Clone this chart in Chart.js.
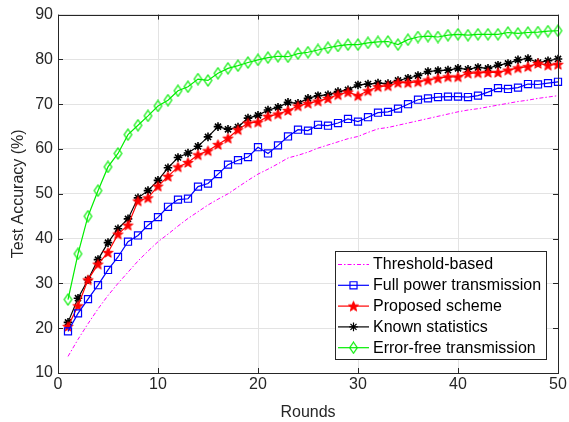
<!DOCTYPE html>
<html>
<head>
<meta charset="utf-8">
<script src="https://cdn.jsdelivr.net/npm/chart.js@4.4.0/dist/chart.umd.min.js"></script>
<style>
    html, body { margin: 0; padding: 0; background: #fff; }
</style>
</head>
<body>
<canvas id="accChart" width="569" height="422"></canvas>
<script>
const rounds = [1, 2, 3, 4, 5, 6, 7, 8, 9, 10,
    11, 12, 13, 14, 15, 16, 17, 18, 19, 20,
    21, 22, 23, 24, 25, 26, 27, 28, 29, 30,
    31, 32, 33, 34, 35, 36, 37, 38, 39, 40,
    41, 42, 43, 44, 45, 46, 47, 48, 49, 50];

const thresholdBased = [13.7, 17.5, 21.0, 24.3, 27.3, 30.0, 32.5, 35.0, 37.2, 39.3,
    41.0, 42.8, 44.5, 46.0, 47.5, 48.8, 50.0, 51.5, 53.0, 54.4,
    55.5, 56.7, 58.0, 58.6, 59.3, 60.2, 60.9, 61.6, 62.3, 62.8,
    63.7, 64.5, 64.8, 65.3, 65.8, 66.3, 66.8, 67.3, 67.8, 68.3,
    68.7, 69.0, 69.4, 69.8, 70.2, 70.6, 70.9, 71.3, 71.6, 71.9];

const fullPower = [19.3, 23.3, 26.5, 29.6, 33.0, 35.9, 39.3, 40.7, 43.0, 44.8,
    47.1, 48.7, 48.9, 51.6, 52.3, 54.4, 56.5, 57.5, 58.2, 60.4,
    59.0, 60.8, 62.8, 64.3, 64.1, 65.4, 65.2, 65.8, 66.7, 66.1,
    67.1, 68.1, 68.3, 69.0, 70.0, 71.0, 71.3, 71.6, 71.7, 71.7,
    71.6, 71.9, 72.7, 73.6, 73.4, 73.7, 74.5, 74.4, 74.7, 75.0];

const proposed = [20.4, 25.0, 30.8, 34.3, 36.9, 41.0, 43.0, 48.4, 49.1, 51.7,
    53.9, 56.0, 57.0, 58.7, 59.6, 61.0, 62.4, 64.3, 65.8, 66.0,
    67.3, 67.8, 68.6, 69.6, 70.2, 70.7, 71.3, 72.1, 72.7, 71.9,
    73.0, 73.9, 74.1, 74.8, 74.8, 75.0, 75.4, 75.8, 76.1, 76.1,
    76.9, 77.0, 77.1, 77.1, 77.6, 78.1, 78.4, 79.1, 78.7, 78.9];

const knownStats = [21.3, 26.7, 30.8, 35.3, 39.1, 42.2, 44.4, 49.1, 50.7, 53.0,
    55.8, 58.1, 59.1, 60.6, 62.7, 65.0, 64.4, 64.9, 66.9, 67.5,
    68.7, 69.3, 70.4, 70.2, 71.3, 71.9, 72.1, 72.8, 73.2, 74.3,
    74.5, 74.7, 74.6, 75.3, 75.8, 76.4, 77.3, 77.5, 77.6, 78.0,
    77.8, 78.2, 78.0, 78.7, 79.1, 79.9, 80.2, 79.3, 79.7, 80.1];

const errorFree = [26.4, 36.6, 45.0, 50.7, 56.0, 59.0, 63.2, 65.3, 67.4, 69.6,
    70.9, 73.0, 73.9, 75.6, 75.3, 76.9, 78.0, 78.6, 79.3, 79.9,
    80.4, 80.7, 80.6, 81.3, 81.6, 82.1, 82.6, 83.0, 83.3, 83.3,
    83.7, 83.9, 84.0, 83.3, 84.4, 85.0, 85.2, 85.0, 85.4, 85.6,
    85.4, 85.6, 85.6, 85.6, 86.0, 85.8, 86.0, 86.1, 86.3, 86.4];

const xTicks = [0, 10, 20, 30, 40, 50];
const yTicks = [10, 20, 30, 40, 50, 60, 70, 80, 90];

const FONT = "'Liberation Sans', Arial, Helvetica, sans-serif";
const AXIS_COLOR = '#262626';

// filled pentagram marker (matlab 'p')
function makeStar(color) {
    const c = document.createElement('canvas');
    c.width = 13; c.height = 13;
    const g = c.getContext('2d');
    const R = 5.3, r = R * 0.42;
    g.beginPath();
    for (let i = 0; i < 10; i++) {
        const rad = i % 2 === 0 ? R : r;
        const a = -Math.PI / 2 + i * Math.PI / 5;
        const px = 6.5 + rad * Math.cos(a), py = 7 + rad * Math.sin(a);
        if (i === 0) g.moveTo(px, py); else g.lineTo(px, py);
    }
    g.closePath();
    g.fillStyle = color;
    g.fill();
    g.strokeStyle = color;
    g.lineWidth = 1;
    g.stroke();
    return c;
}

// open diamond marker, taller than wide
function makeDiamond(color) {
    const c = document.createElement('canvas');
    c.width = 11; c.height = 13;
    const g = c.getContext('2d');
    g.beginPath();
    g.moveTo(5.5, 1);
    g.lineTo(9.3, 6.5);
    g.lineTo(5.5, 12);
    g.lineTo(1.7, 6.5);
    g.closePath();
    g.strokeStyle = color;
    g.lineWidth = 1.2;
    g.stroke();
    return c;
}

const starImg = makeStar('#ff0000');
const diamondImg = makeDiamond('#00ee00');

function toPoints(values) {
    return values.map((v, i) => ({ x: rounds[i], y: v }));
}

const datasets = [
    {
        label: 'Threshold-based',
        data: toPoints(thresholdBased),
        borderColor: '#ff00ff',
        borderWidth: 1,
        borderDash: [4, 2, 1.5, 2],
        pointRadius: 0
    },
    {
        label: 'Full power transmission',
        data: toPoints(fullPower),
        borderColor: '#0000ff',
        borderWidth: 1.2,
        pointStyle: 'rect',
        pointRadius: 5,
        pointBorderColor: '#0000ff',
        pointBackgroundColor: 'rgba(0,0,0,0)',
        pointBorderWidth: 1.2
    },
    {
        label: 'Proposed scheme',
        data: toPoints(proposed),
        borderColor: '#ff0000',
        borderWidth: 1.2,
        pointStyle: starImg,
        pointRadius: 5
    },
    {
        label: 'Known statistics',
        data: toPoints(knownStats),
        borderColor: '#000000',
        borderWidth: 1.2,
        pointStyle: 'star',
        pointRadius: 4.3,
        pointBorderColor: '#000000',
        pointBorderWidth: 1.6
    },
    {
        label: 'Error-free transmission',
        data: toPoints(errorFree),
        borderColor: '#00ee00',
        borderWidth: 1.2,
        pointStyle: diamondImg,
        pointRadius: 5
    }
];

// matlab style box, inward ticks and legend box
const matlabAxes = {
    id: 'matlabAxes',
    afterDatasetsDraw(chart) {
        const ctx = chart.ctx;
        const a = chart.chartArea;
        const xs = chart.scales.x, ys = chart.scales.y;
        ctx.save();
        ctx.strokeStyle = AXIS_COLOR;
        ctx.lineWidth = 1;
        ctx.strokeRect(Math.round(a.left) + 0.5, Math.round(a.top) + 0.5,
            Math.round(a.right - a.left), Math.round(a.bottom - a.top));
        ctx.beginPath();
        xTicks.forEach(t => {
            const px = Math.round(xs.getPixelForValue(t)) + 0.5;
            ctx.moveTo(px, a.bottom); ctx.lineTo(px, a.bottom - 5);
            ctx.moveTo(px, a.top); ctx.lineTo(px, a.top + 5);
        });
        yTicks.forEach(t => {
            const py = Math.round(ys.getPixelForValue(t)) + 0.5;
            ctx.moveTo(a.left, py); ctx.lineTo(a.left + 5, py);
            ctx.moveTo(a.right, py); ctx.lineTo(a.right - 5, py);
        });
        ctx.stroke();

        // legend
        const box = { x: 335.5, y: 251.5, w: 211, h: 108 };
        ctx.fillStyle = '#ffffff';
        ctx.fillRect(box.x, box.y, box.w, box.h);
        ctx.strokeStyle = AXIS_COLOR;
        ctx.strokeRect(box.x, box.y, box.w, box.h);
        ctx.font = '16px ' + FONT;
        ctx.textBaseline = 'middle';
        ctx.textAlign = 'left';
        chart.data.datasets.forEach((ds, i) => {
            const yy = 264.5 + i * 20.8;
            ctx.save();
            ctx.strokeStyle = ds.borderColor;
            ctx.lineWidth = ds.borderWidth;
            ctx.setLineDash(ds.borderDash || []);
            ctx.beginPath();
            ctx.moveTo(338, yy); ctx.lineTo(369, yy);
            ctx.stroke();
            ctx.setLineDash([]);
            if (ds.pointRadius > 0) {
                ctx.strokeStyle = ds.pointBorderColor || ds.borderColor;
                ctx.fillStyle = ds.pointBackgroundColor || ds.borderColor;
                Chart.helpers.drawPoint(ctx, {
                    pointStyle: ds.pointStyle,
                    radius: ds.pointRadius,
                    borderWidth: ds.pointBorderWidth || 1,
                    rotation: 0
                }, 353.5, yy);
            }
            ctx.restore();
            ctx.fillStyle = '#000000';
            ctx.fillText(ds.label, 373, yy + 0.5);
        });
        ctx.restore();
    }
};

const ctx = document.getElementById('accChart').getContext('2d');
var chart = new Chart(ctx, {
    type: 'line',
    data: { datasets: datasets },
    options: {
        responsive: false,
        animation: false,
        clip: false,
        layout: { padding: { top: 13, right: 11, left: 0, bottom: 0 } },
        plugins: {
            legend: { display: false },
            tooltip: { enabled: false }
        },
        scales: {
            x: {
                type: 'linear',
                min: 0,
                max: 50,
                afterFit: s => { s.height = 49; },
                afterBuildTicks: s => { s.ticks = xTicks.map(v => ({ value: v })); },
                ticks: { color: AXIS_COLOR, font: { size: 16, family: FONT }, padding: 2, maxRotation: 0 },
                grid: { color: '#e3e3e3', drawTicks: false },
                border: { display: false },
                title: {
                    display: true,
                    text: 'Rounds',
                    color: AXIS_COLOR,
                    font: { size: 16, family: FONT },
                    padding: { top: 0, bottom: 0 }
                }
            },
            y: {
                min: 10,
                max: 90,
                afterFit: s => { s.width = 58; },
                afterBuildTicks: s => { s.ticks = yTicks.map(v => ({ value: v })); },
                ticks: { color: AXIS_COLOR, font: { size: 16, family: FONT }, padding: 5 },
                grid: { color: '#e3e3e3', drawTicks: false },
                border: { display: false },
                title: {
                    display: true,
                    text: 'Test Accuracy (%)',
                    color: AXIS_COLOR,
                    font: { size: 16, family: FONT },
                    padding: { top: 9, bottom: 0 }
                }
            }
        }
    },
    plugins: [matlabAxes]
});
</script>
</body>
</html>
